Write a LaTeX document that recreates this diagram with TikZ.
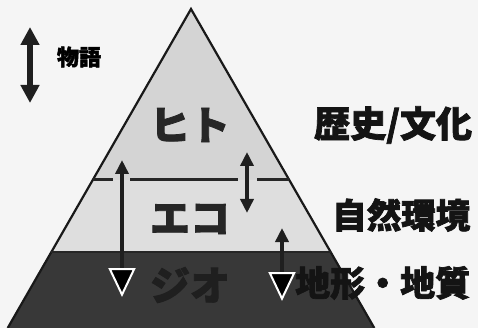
\documentclass[tikz,border=0pt]{standalone}
\usepackage{fontspec}
\newfontfamily\cjk{Noto Sans CJK JP}[BoldFeatures={FakeBold=2}]
\usetikzlibrary{arrows.meta}
\begin{document}
\begin{tikzpicture}[x=1pt,y=-1pt,
  side/.style={font=\cjk\bfseries\fontsize{36}{36}\selectfont, anchor=west, inner sep=0pt, text=black!92},
  layer/.style={font=\cjk\bfseries\fontsize{40}{40}\selectfont, inner sep=0pt, text=black!85},
  bigarrow/.style={line width=6pt, {Triangle[width=18pt,length=18pt]}-{Triangle[width=18pt,length=18pt]}},
  dblarrow/.style={line width=4pt, {Triangle[width=13pt,length=14pt]}-{Triangle[width=13pt,length=14pt]}},
  openarrow/.style={line width=4pt, {Triangle[width=13pt,length=14pt]}-{Triangle[width=27pt,length=29pt,fill=black,color=white,line width=2pt]}},
  divider/.style={line width=3pt, black!85}]
\useasboundingbox (0,0) rectangle (478,328);
\fill[black!4] (0,0) rectangle (478,328);
% triangle geometry
\coordinate (apex) at (191,9);
\coordinate (l1) at (92.7,180);
\coordinate (r1) at (289.3,180);
\coordinate (l2) at (51.3,252);
\coordinate (r2) at (330.7,252);
\coordinate (l3) at (7.7,328);
\coordinate (r3) at (374.3,328);
\fill[black!17] (apex) -- (l1) -- (r1) -- cycle;
\fill[black!13] (l1) -- (l2) -- (r2) -- (r1) -- cycle;
\fill[black!78] (l2) -- (l3) -- (r3) -- (r2) -- cycle;
\draw[line width=2.2pt, black!90] (l3) -- (apex) -- (r3);
\draw[line width=2.5pt, black!85] (l2) -- (r2);
% divider with gaps
\coordinate (g1) at (113,180);
\coordinate (g2) at (130,180);
\coordinate (g3) at (238,180);
\coordinate (g4) at (257,180);
\draw[divider] (l1) -- (g1);
\draw[divider] (g2) -- (g3);
\draw[divider] (g4) -- (r1);
% layer labels
\node[layer] (hito) at (190,125) {ヒト};
\node[layer] (eco) at (190,219) {エコ};
\node[layer, text=black!88] (geo) at (190,285) {ジオ};
% side labels
\node[side] (rekishi) at (314,125) {歴史/文化};
\node[side, font=\cjk\bfseries\fontsize{34.5}{34.5}\selectfont] (shizen) at (332,215) {自然環境};
\node[side, font=\cjk\bfseries\fontsize{35}{35}\selectfont] (chikei) at (295,283) {地形・地質};
% story arrow
\coordinate (s1) at (30,27);
\coordinate (s2) at (30,103);
\draw[bigarrow, black!88] (s1) -- (s2);
\node[font=\cjk\bfseries\fontsize{22}{22}\selectfont, inner sep=0pt] (monogatari) at (79,57) {物語};
% arrows in triangle
\coordinate (a1) at (122,160);
\coordinate (a2) at (122,297);
\draw[openarrow, black!88] (a1) -- (a2);
\coordinate (b1) at (247,152);
\coordinate (b2) at (247,213);
\draw[dblarrow, black!88] (b1) -- (b2);
\coordinate (c1) at (282,228);
\coordinate (c2) at (282,301);
\draw[openarrow, black!88] (c1) -- (c2);
\end{tikzpicture}
\end{document}
